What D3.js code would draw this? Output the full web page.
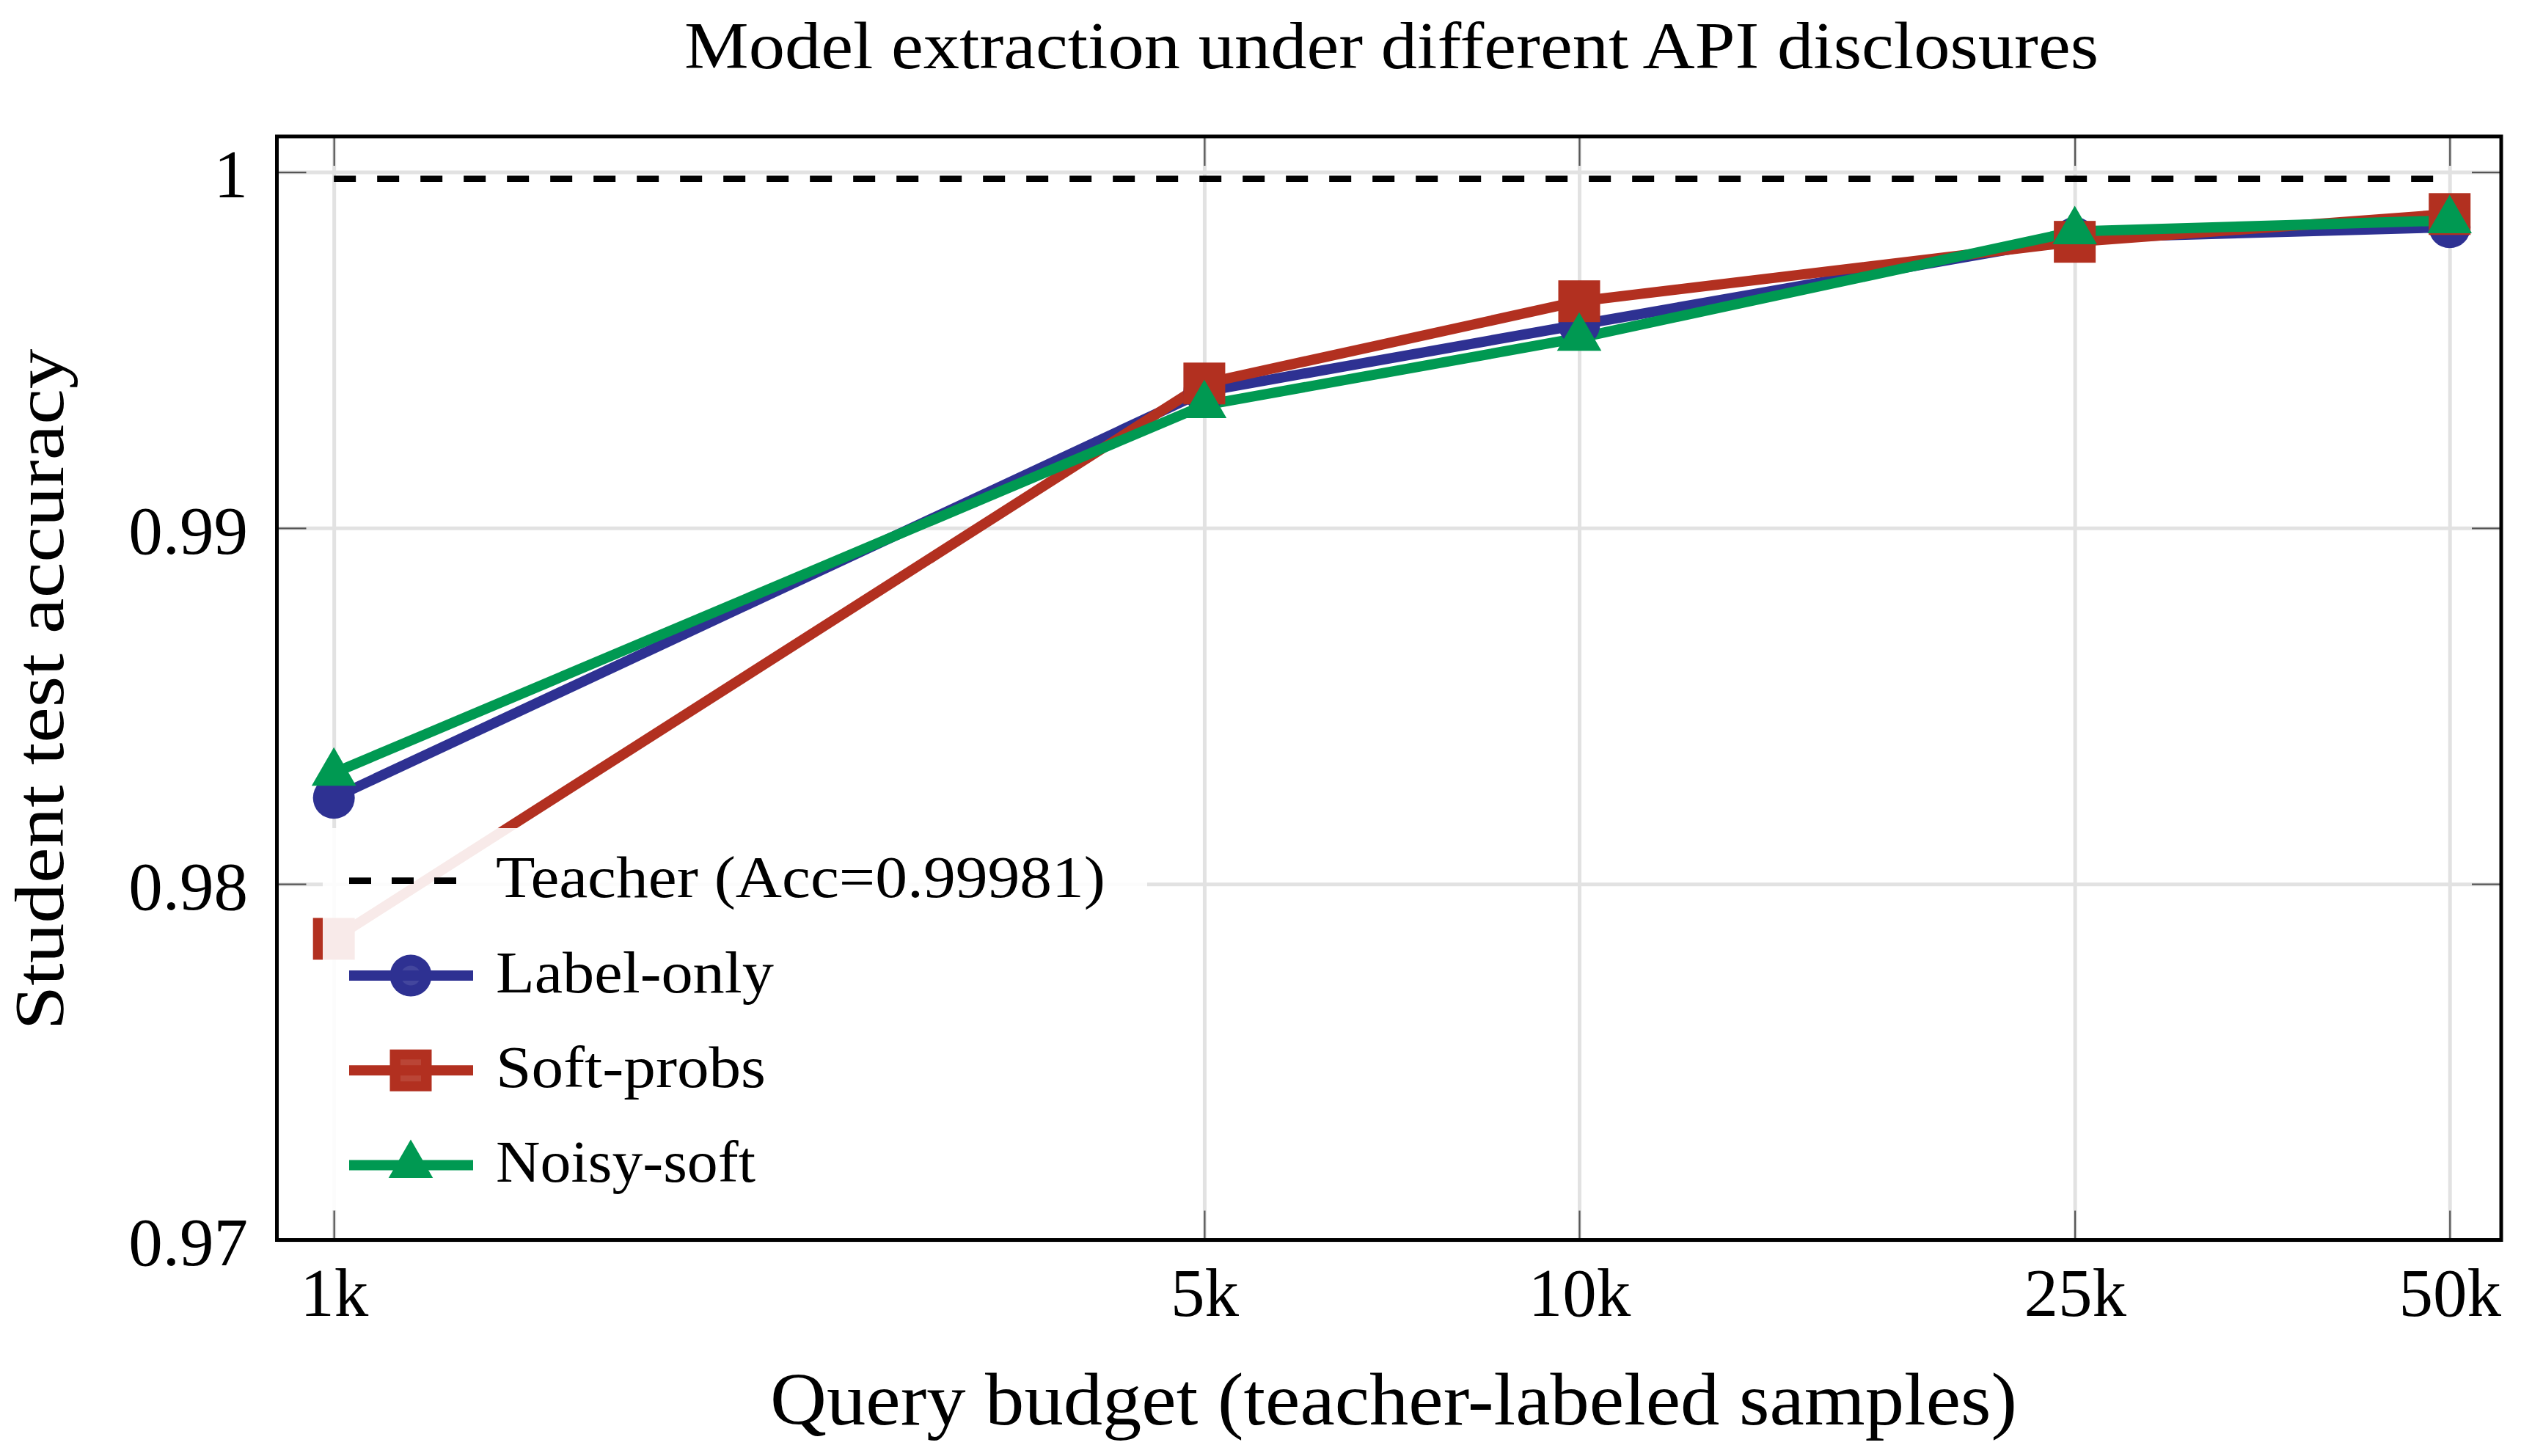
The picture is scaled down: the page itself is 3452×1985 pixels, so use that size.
<!DOCTYPE html>
<html>
<head>
<meta charset="utf-8">
<script src="https://cdn.jsdelivr.net/npm/d3@7"></script>
<style>
  html, body { margin: 0; padding: 0; background: #ffffff; }
  svg { display: block; }
  text { font-family: "Liberation Serif", "DejaVu Serif", serif; fill: #000; }
</style>
</head>
<body>
<svg id="chart" width="3452" height="1985"></svg>
<script>
// ---------------- data ----------------
const categories = ["1k", "5k", "10k", "25k", "50k"];
const budgets = [1000, 5000, 10000, 25000, 50000];
const labelOnly = [0.98242, 0.99384, 0.99571, 0.99815, 0.99845];
const softProbs = [0.97846, 0.99406, 0.99637, 0.99804, 0.99882];
const noisySoft = [0.98312, 0.99345, 0.99534, 0.99833, 0.99864];
const teacherAcc = 0.99981;
const yTicks = [0.97, 0.98, 0.99, 1.0];
const yTickLabels = ["0.97", "0.98", "0.99", "1"];
const seriesNames = ["Label-only", "Soft-probs", "Noisy-soft"];
const teacherLabel = "Teacher (Acc=0.99981)";
const titleText = "Model extraction under different API disclosures";
const xTitle = "Query budget (teacher-labeled samples)";
const yTitle = "Student test accuracy";

// ---------------- layout ----------------
const L = 377.5, R = 3410, T = 186, B = 1690.5;
const colors = ["#2e3192", "#b23020", "#009952"];
const shapes = ["circle", "square", "triangle"];

const svg = d3.select("#chart");
const x = d3.scaleLog().domain([900, 55000]).range([L, R]);
const y = d3.scaleLinear().domain([0.97, 1.001]).range([B, T]);

// grid
const grid = svg.append("g");
grid.append("g").attr("transform", `translate(${L},0)`)
  .call(d3.axisLeft(y).tickValues(yTicks).tickSize(-(R - L)).tickFormat(""))
  .call(g => g.select(".domain").remove())
  .call(g => g.selectAll("line").attr("stroke", "#e2e2e2").attr("stroke-width", 5));
grid.append("g").attr("transform", `translate(0,${B})`)
  .call(d3.axisBottom(x).tickValues(budgets).tickSize(-(B - T)).tickFormat(""))
  .call(g => g.select(".domain").remove())
  .call(g => g.selectAll("line").attr("stroke", "#e2e2e2").attr("stroke-width", 5));

// inner ticks + labels
const tickStyle = g => {
  g.select(".domain").remove();
  g.selectAll("line").attr("stroke", "#555").attr("stroke-width", 2.2);
};
svg.append("g").attr("transform", `translate(${L},0)`)
  .call(d3.axisLeft(y).tickValues(yTicks).tickFormat((d, i) => yTickLabels[i])
        .tickSizeInner(-40).tickSizeOuter(0).tickPadding(39.5))
  .call(tickStyle)
  .call(g => g.selectAll("text").attr("font-size", 93).attr("dy", "0.37em")
        .attr("font-family", "Liberation Serif").attr("fill", "#000"));
svg.append("g").attr("transform", `translate(${R},0)`)
  .call(d3.axisRight(y).tickValues(yTicks).tickFormat("")
        .tickSizeInner(-40).tickSizeOuter(0))
  .call(tickStyle);
svg.append("g").attr("transform", `translate(0,${B})`)
  .call(d3.axisBottom(x).tickValues(budgets).tickFormat((d, i) => categories[i])
        .tickSizeInner(-40).tickSizeOuter(0).tickPadding(37.5))
  .call(tickStyle)
  .call(g => g.selectAll("text").attr("font-size", 93)
        .attr("font-family", "Liberation Serif").attr("fill", "#000"));
svg.append("g").attr("transform", `translate(0,${T})`)
  .call(d3.axisTop(x).tickValues(budgets).tickFormat("")
        .tickSizeInner(-40).tickSizeOuter(0))
  .call(tickStyle);

// teacher line
svg.append("line")
  .attr("x1", x(budgets[0])).attr("x2", x(budgets[budgets.length - 1]))
  .attr("y1", y(teacherAcc)).attr("y2", y(teacherAcc))
  .attr("stroke", "#000").attr("stroke-width", 8.7)
  .attr("stroke-dasharray", "30,29");

// series
const series = [labelOnly, softProbs, noisySoft].map((vals, i) => ({
  name: seriesNames[i], color: colors[i], shape: shapes[i],
  pts: vals.map((v, j) => ({ b: budgets[j], v }))
}));
const line = d3.line().x(d => x(d.b)).y(d => y(d.v));
svg.append("g").selectAll("path").data(series).join("path")
  .attr("d", d => line(d.pts))
  .attr("fill", "none").attr("stroke", d => d.color)
  .attr("stroke-width", 14).attr("stroke-linejoin", "round");

function drawMarker(g, shape, color) {
  if (shape === "circle") {
    g.append("circle").attr("r", 28.5).attr("fill", color);
  } else if (shape === "square") {
    g.append("rect").attr("x", -28.5).attr("y", -28.5)
      .attr("width", 57).attr("height", 57).attr("fill", color);
  } else {
    g.append("path").attr("d", "M0,-35L30.31,17.5L-30.31,17.5Z").attr("fill", color);
  }
}
series.forEach(s => {
  const g = svg.append("g");
  s.pts.forEach(p => {
    const m = g.append("g").attr("transform", `translate(${x(p.b)},${y(p.v)})`);
    drawMarker(m, s.shape, s.color);
  });
});

// frame
svg.append("rect").attr("x", L).attr("y", T)
  .attr("width", R - L).attr("height", B - T)
  .attr("fill", "none").attr("stroke", "#000").attr("stroke-width", 5);

// legend
const leg = svg.append("g");
leg.append("rect").attr("x", 440).attr("y", 1129).attr("width", 1124).attr("height", 521)
  .attr("fill", "#fff").attr("fill-opacity", 0.9);
const rowY = [1200.7, 1330, 1459.3, 1588.6];
const legWidths = [831, 379, 368, 354];
leg.append("line").attr("x1", 476).attr("x2", 645)
  .attr("y1", rowY[0]).attr("y2", rowY[0])
  .attr("stroke", "#000").attr("stroke-width", 8.7).attr("stroke-dasharray", "30,28");
leg.append("text").attr("x", 676).attr("y", rowY[0] + 22.6)
  .attr("font-size", 80).attr("textLength", legWidths[0])
  .attr("lengthAdjust", "spacingAndGlyphs").text(teacherLabel);
const lighter = c => d3.interpolateRgb(c, "#fff")(0.1);
series.forEach((s, i) => {
  const yy = rowY[i + 1];
  const m = leg.append("g").attr("transform", `translate(560,${yy})`);
  drawMarker(m, s.shape, s.color);
  if (s.shape === "circle") m.append("circle").attr("r", 13.5).attr("fill", lighter(s.color));
  if (s.shape === "square") m.append("rect").attr("x", -14).attr("y", -15)
      .attr("width", 28).attr("height", 30).attr("fill", lighter(s.color));
  leg.append("line").attr("x1", 476).attr("x2", 645).attr("y1", yy).attr("y2", yy)
    .attr("stroke", s.color).attr("stroke-width", 14);
  leg.append("text").attr("x", 676).attr("y", yy + 22.6)
    .attr("font-size", 80).attr("textLength", legWidths[i + 1])
    .attr("lengthAdjust", "spacingAndGlyphs").text(s.name);
});

// titles
svg.append("text").attr("x", 1897).attr("y", 93).attr("text-anchor", "middle")
  .attr("font-size", 90).attr("textLength", 1928).attr("lengthAdjust", "spacingAndGlyphs")
  .text(titleText);
svg.append("text").attr("x", 1900).attr("y", 1942).attr("text-anchor", "middle")
  .attr("font-size", 102).attr("textLength", 1700).attr("lengthAdjust", "spacingAndGlyphs")
  .text(xTitle);
svg.append("text").attr("transform", "translate(86,940) rotate(-90)")
  .attr("text-anchor", "middle")
  .attr("font-size", 96).attr("textLength", 929).attr("lengthAdjust", "spacingAndGlyphs")
  .text(yTitle);
</script>
</body>
</html>
